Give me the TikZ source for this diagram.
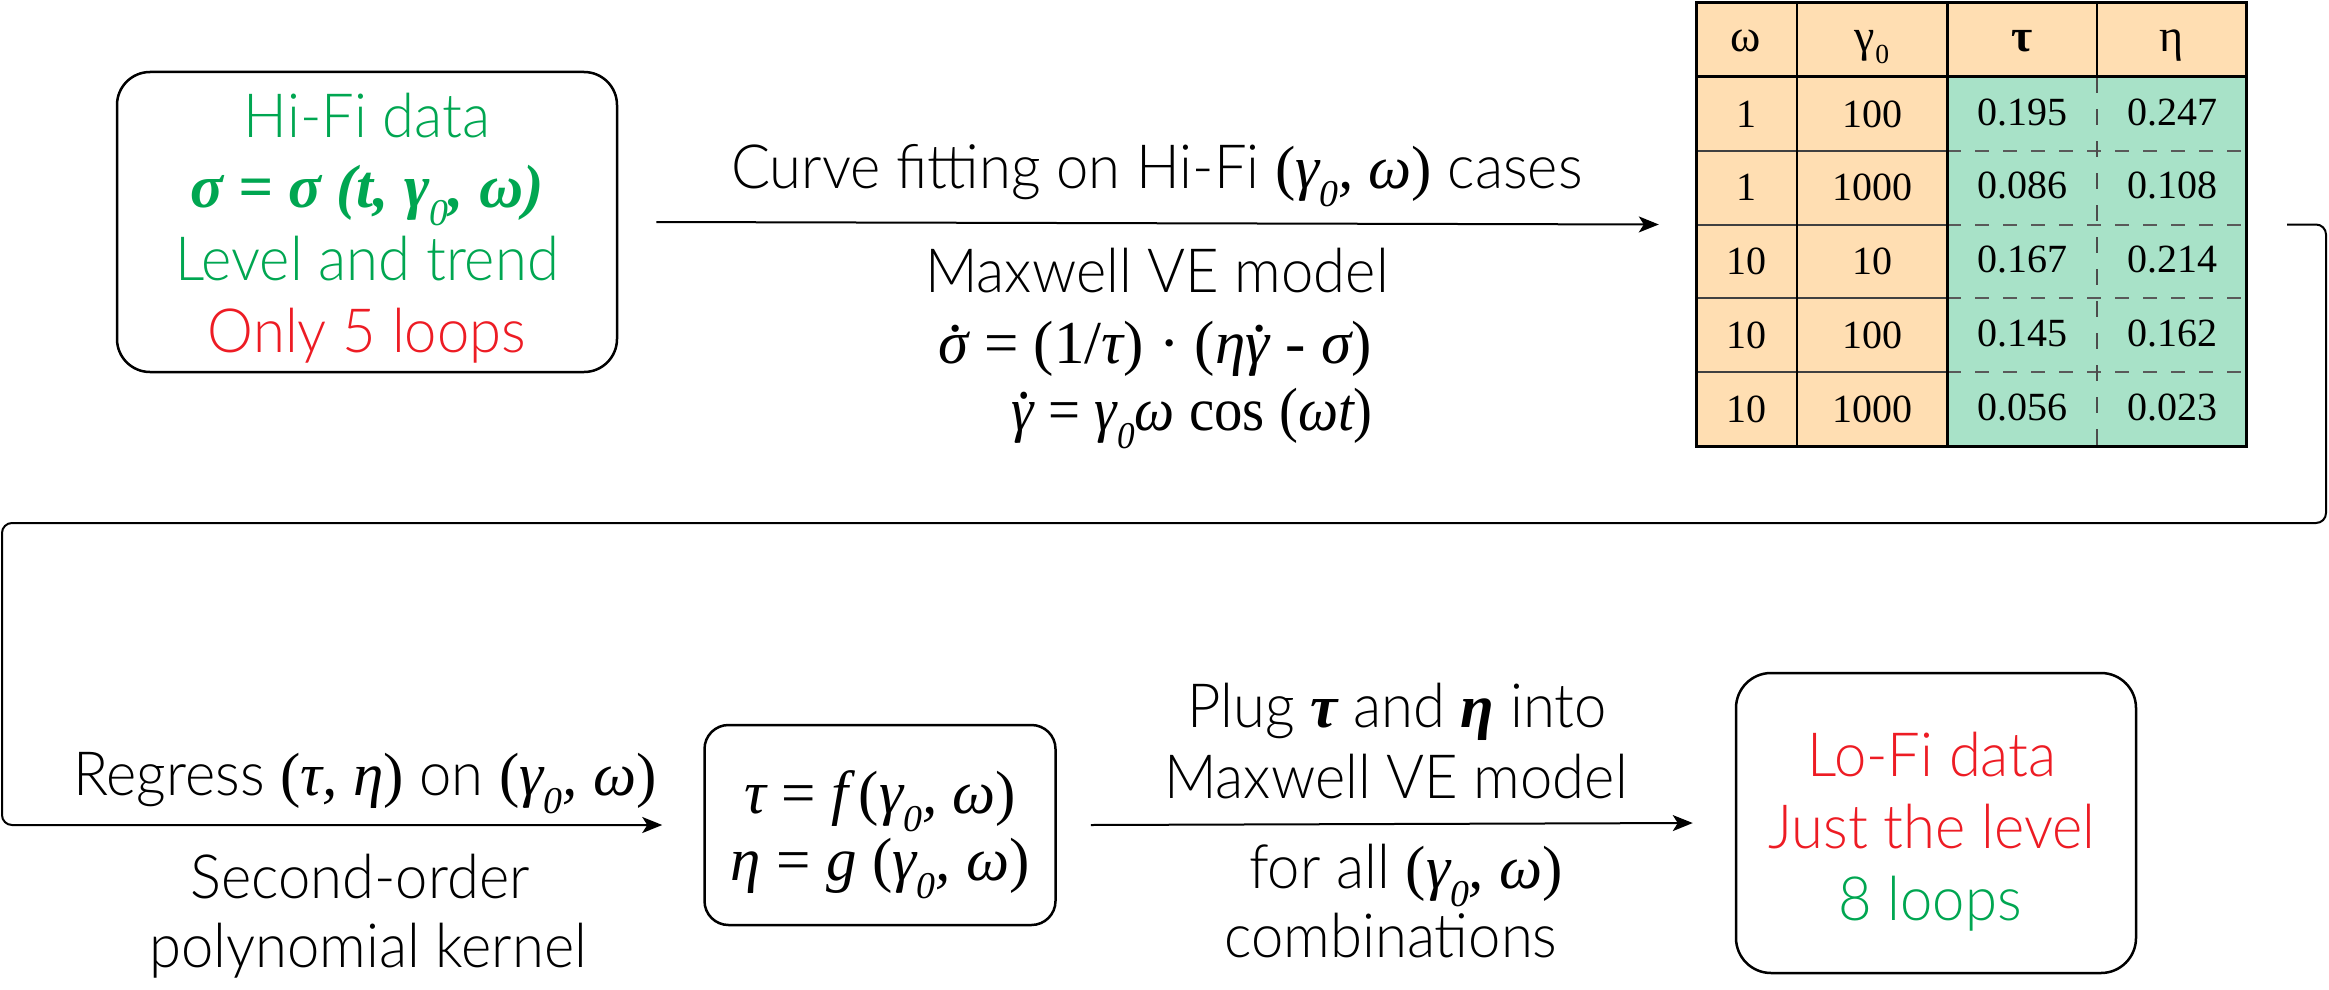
\documentclass[tikz,border=0pt]{standalone}
\usepackage{fontspec}
\usepackage{graphicx}
\usetikzlibrary{arrows.meta}
\setmainfont{Lato Light}[FakeStretch=0.95]
\newfontfamily\tms{Liberation Serif}
\newfontfamily\tbfont{Liberation Serif}
\definecolor{hgreen}{RGB}{0,166,81}
\definecolor{hred}{RGB}{237,28,36}
\definecolor{torange}{RGB}{255,222,178}
\definecolor{tgreen}{RGB}{168,226,200}
\newcommand\zs{\raisebox{-0.3em}{\scalebox{0.62}{\tms\itshape 0}}}
\newcommand\gi[1]{{\tms\itshape #1}}
\newcommand\gb[1]{{\tms\bfseries\itshape #1}}
\newcommand\gr[1]{{\tms #1}}
\newcommand\dotacc[1]{\ooalign{#1\cr\hidewidth\kern0.12em\raisebox{0.52em}{.}\hidewidth\cr}}
\begin{document}
\begin{tikzpicture}[x=1pt,y=-1pt,
  txt/.style={anchor=base, inner sep=0pt, text height=0.72em, text depth=0.2em, font=\fontsize{61}{72}\selectfont},
  tbtxt/.style={anchor=base, inner sep=0pt, font=\tbfont\fontsize{40}{42}\selectfont},
  tbhead/.style={anchor=base, inner sep=0pt, font=\tbfont\fontsize{46}{48}\selectfont},
  rbox/.style={draw, line width=2.5pt, rounded corners=#1, inner sep=0pt},
  arr/.style={line width=2pt, -{Stealth[length=20pt,width=16pt,inset=5pt]}}]
\useasboundingbox (0,0) rectangle (2329,990);

% ---- box 1
\node[rbox=33pt, minimum width=500pt, minimum height=300pt] (hifi) at (367,222) {};
\node[txt, text=hgreen] (h1) at (367,137) {Hi-Fi data};
\node[txt, text=hgreen] (h2) at (367,207) {\gb{σ = σ (t, γ}\zs\gb{, ω)}};
\node[txt, text=hgreen] (h3) at (367,280) {Level and trend};
\node[txt, text=hred] (h4) at (367,352) {Only 5 loops};

% ---- table
\node[minimum width=550pt, minimum height=443pt, inner sep=0pt] (tbl) at (1971,224.5) {};
\fill[torange] (1696,3) rectangle (2246,446);
\fill[tgreen] (1947,77) rectangle (2246,446);
\foreach \y in {151,225,298,372}{
  \draw[line width=1.5pt, black!75] (1696,\y) -- (1947,\y);
  \draw[line width=1.5pt, black!65, dash pattern=on 14pt off 14pt] (1947,\y) -- (2246,\y);
}
\draw[line width=1.5pt] (1797,3) -- (1797,446);
\draw[line width=1.5pt] (2097,3) -- (2097,77);
\draw[line width=1.5pt, black!70, dash pattern=on 16pt off 16pt] (2097,77) -- (2097,446);
\draw[line width=3pt] (1696,77) -- (2246,77);
\draw[line width=3pt] (1947,3) -- (1947,446);
\draw[line width=3pt] (1696,3) rectangle (2246,446);
\node[tbhead] (th1) at (1746,52) {ω};
\node[tbhead] (th2) at (1872,52) {γ\raisebox{-0.25em}{\scalebox{0.6}{0}}};
\node[tbhead, font=\tbfont\bfseries\fontsize{46}{48}\selectfont] (th3) at (2022,52) {τ};
\node[tbhead] (th4) at (2172,52) {η};
\foreach \a/\b/\c/\d [count=\i] in {1/100/0.195/0.247, 1/1000/0.086/0.108, 10/10/0.167/0.214, 10/100/0.145/0.162, 10/1000/0.056/0.023}{
  \node[tbtxt] (ra\i) at (1746,{127+73.8*(\i-1)}) {\a};
  \node[tbtxt] (rb\i) at (1872,{127+73.8*(\i-1)}) {\b};
  \node[tbtxt] (rc\i) at (2022,{125+73.8*(\i-1)}) {\c};
  \node[tbtxt] (rd\i) at (2172,{125+73.8*(\i-1)}) {\d};
}

% ---- arrow 1 and labels
\draw[arr] ([xshift=38pt]hifi.east) -- ([xshift=-37pt]tbl.west);
\node[txt] (c1) at (1157,188) {Curve fitting on Hi-Fi \gr{(}\gi{γ}\zs\gi{, ω}\gr{)} cases};
\node[txt] (c2) at (1157,292) {Maxwell VE model};
\node[txt] (c3) at (1155,363) {\gi{\dotacc{σ}} \gr{= (1/}\gi{τ}\gr{) · (}\gi{η\dotacc{γ}} \gr{-} \gi{σ}\gr{)}};
\node[txt] (c4) at (1192,430) {\scalebox{0.93}[1]{\gi{\dotacc{γ}} \gr{=} \gi{γ}\zs\gi{ω} \gr{cos (}\gi{ωt}\gr{)}}};

% ---- box 2
\node[rbox=24pt, minimum width=351pt, minimum height=200pt] (fg) at (880,825) {};
\node[txt] (f1) at (880,813) {\gi{τ} \gr{=} \gi{f}\gr{\,(}\gi{γ}\zs\gi{, ω}\gr{)}};
\node[txt] (f2) at (880,880) {\gi{η} \gr{=} \gi{g}\gr{ (}\gi{γ}\zs\gi{, ω}\gr{)}};

% ---- box 3
\node[rbox=35pt, minimum width=400pt, minimum height=300pt] (lofi) at (1936,823) {};
\node[txt, text=hred] (l1) at (1932,776) {Lo-Fi data};
\node[txt, text=hred] (l2) at (1932,848) {Just the level};
\node[txt, text=hgreen] (l3) at (1930,920) {8 loops};

% ---- connector from table to box 2
\coordinate (turnR) at (2326,523);
\coordinate (turnL) at (2,523);
\draw[line width=2pt, rounded corners=10pt, -{Stealth[length=20pt,width=16pt,inset=5pt]}]
  ([xshift=41pt]tbl.east) -| (turnR) -- (turnL) |- ([xshift=-41pt]fg.west);
\node[txt] (r1) at (365,795) {Regress \gr{(}\gi{τ, η}\gr{)} on \gr{(}\gi{γ}\zs\gi{, ω}\gr{)}};
\node[txt] (r2) at (360,898) {Second-order};
\node[txt] (r3) at (368,967) {polynomial kernel};

% ---- arrow 3 and labels
\draw[arr] ([xshift=34pt]fg.east) -- ([xshift=-42pt]lofi.west);
\node[txt] (p1) at (1397,727) {Plug \gb{τ} and \gb{η} into};
\node[txt] (p2) at (1396,798) {Maxwell VE model};
\node[txt] (p3) at (1406,888) {for all \gr{(}\gi{γ}\zs\gi{, ω}\gr{)}};
\node[txt] (p4) at (1391,957) {combinations};
\end{tikzpicture}
\end{document}
